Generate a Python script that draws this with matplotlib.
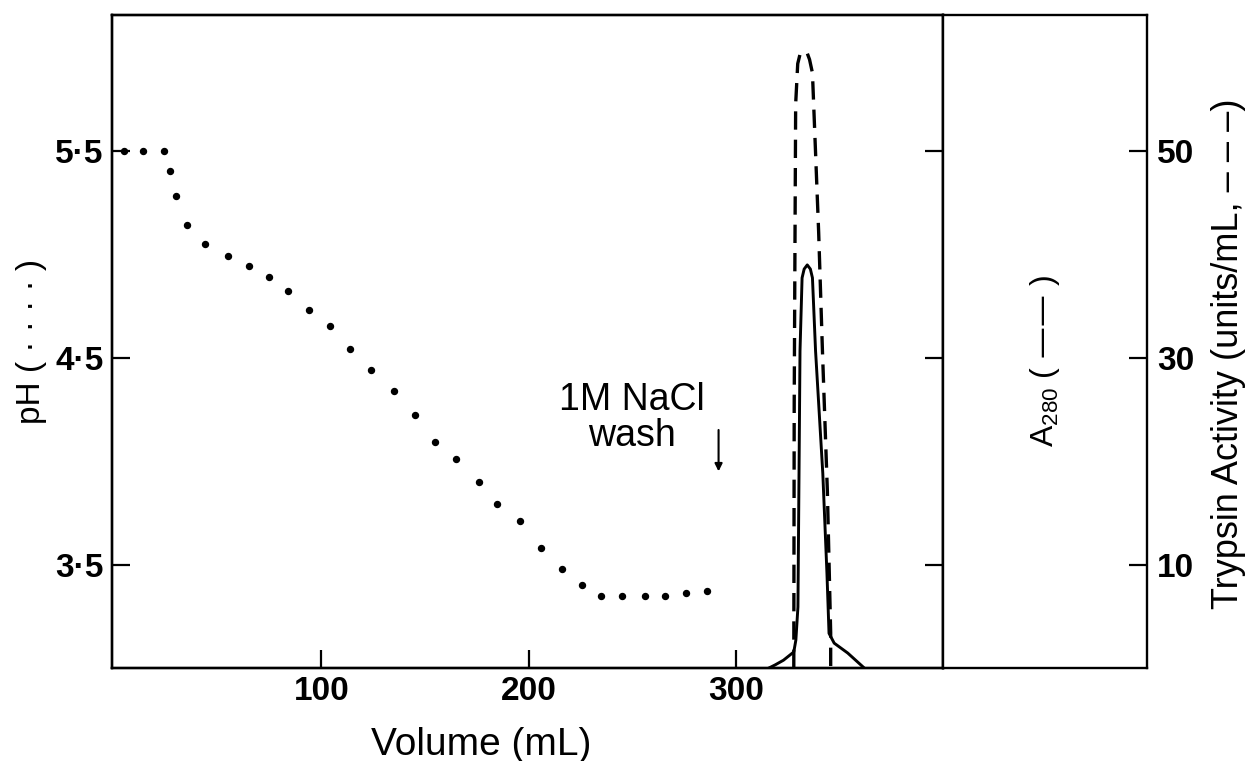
import matplotlib
matplotlib.use('Agg')
import matplotlib.pyplot as plt

# pH gradient (dotted)
ph_vol = [5, 14, 24, 27, 30, 35, 44, 55, 65, 75, 84, 94, 104, 114, 124, 135, 145,
          155, 165, 176, 185, 196, 206, 216, 226, 235, 245, 256, 266, 276, 286]
ph_val = [5.5, 5.5, 5.5, 5.40, 5.28, 5.14, 5.05, 4.99, 4.94, 4.89, 4.82, 4.73, 4.65,
          4.54, 4.44, 4.34, 4.22, 4.09, 4.01, 3.90, 3.79, 3.71, 3.58, 3.48, 3.40,
          3.35, 3.35, 3.35, 3.35, 3.36, 3.37]

# A280 (solid)
a280_vol = [316, 319, 323, 328, 329, 330, 331, 332, 333, 334.5, 336, 337, 338.5,
            342, 344, 345, 347.5, 354, 362]
a280_val = [0.0, 0.0006, 0.0015, 0.0031, 0.0054, 0.0118, 0.0613, 0.0754, 0.0771,
            0.0779, 0.0771, 0.0754, 0.0613, 0.0376, 0.0183, 0.0067, 0.0048, 0.0029, 0.0]

# trypsin activity (dashed)
tryp_vol = [328, 328.2, 328.9, 329.9, 331, 332.8, 334.5, 335.6, 337, 340, 341.8,
            344.2, 345.8, 345.8]
tryp_val = [0, 25.6, 54.5, 58.4, 59.3, 59.6, 59.4, 58.8, 57.5, 42.1, 30.8, 17.1, 3.4, 0]

ph_ticks = [3.5, 4.5, 5.5]
ph_labels = ['3·5', '4·5', '5·5']
vol_ticks = [100, 200, 300]
a280_ticks = [0.02, 0.06, 0.10]
a280_labels = ['·02', '·06', '·10']
tryp_ticks = [10, 30, 50]

bold = dict(family=['Liberation Sans', 'DejaVu Sans'], weight='bold', size=24)
plt.rcParams['font.family'] = ['Liberation Sans', 'DejaVu Sans']
plt.rcParams['mathtext.default'] = 'regular'

fig = plt.figure(figsize=(12.52, 7.61), dpi=100)
ax = fig.add_axes([112 / 1252, 93 / 761, 831 / 1252, 653 / 761])
ax.set_xlim(-1, 400)
ax.set_ylim(3.0, 6.155)
for s in ax.spines.values():
    s.set_linewidth(1.7)

ax.plot(ph_vol, ph_val, ls='none', marker='o', ms=4.3, color='k')
ax.set_xticks(vol_ticks)
ax.set_xticklabels(vol_ticks, fontdict=bold)
ax.set_yticks(ph_ticks)
ax.set_yticklabels(ph_labels, fontdict=bold)
ax.tick_params(direction='in', length=13, width=1.6, pad=6)
ax.set_xlabel('Volume (mL)', fontsize=28)
ax.xaxis.set_label_coords(0.444, -0.09)
ax.set_ylabel('pH ( · · · · )', fontsize=24, labelpad=6)

ax.text(250, 4.21, '1M NaCl\nwash', ha='center', va='center', fontsize=27,
        linespacing=1.0)
ax.annotate('', xy=(291.7, 3.95), xytext=(291.7, 4.15),
            arrowprops=dict(arrowstyle='-|>', lw=1.5, color='k', mutation_scale=11,
                            shrinkA=0, shrinkB=0))

# A280 on the divider line
ax_a = ax.twinx()
ax_a.set_ylim(0, 0.1262)
ax_a.plot(a280_vol, a280_val, color='k', lw=2.1)
ax_a.set_yticks(a280_ticks)
ax_a.set_yticklabels(a280_labels, fontdict=bold)
ax_a.tick_params(direction='in', length=13, width=1.6, pad=5)
for s in ax_a.spines.values():
    s.set_linewidth(1.7)

# trypsin curve on hidden twin
ax_t = ax.twinx()
ax_t.set_ylim(0, 63.1)
ax_t.plot(tryp_vol, tryp_val, color='k', lw=2.4, dashes=(5.5, 3))
ax_t.set_yticks([])
for s in ax_t.spines.values():
    s.set_visible(False)

# side panel with trypsin scale
ax_s = fig.add_axes([943 / 1252, 93 / 761, 204 / 1252, 653 / 761])
ax_s.set_xlim(0, 1)
ax_s.set_ylim(0, 63.1)
ax_s.set_xticks([])
ax_s.yaxis.tick_right()
ax_s.set_yticks(tryp_ticks)
ax_s.set_yticklabels(tryp_ticks, fontdict=bold)
ax_s.tick_params(direction='in', length=13, width=1.6, pad=7)
for s in ax_s.spines.values():
    s.set_linewidth(1.7)
ax_s.text(0.5, 0.47, 'A$_{280}$ ( —— )', rotation=90, ha='center', va='center',
          fontsize=23, transform=ax_s.transAxes)
ax_s.text(1.40, 0.09, 'Trypsin Activity (units/mL, – – –)', rotation=90,
          ha='center', va='bottom', fontsize=26, transform=ax_s.transAxes)

fig.savefig('out.png', dpi=100)
